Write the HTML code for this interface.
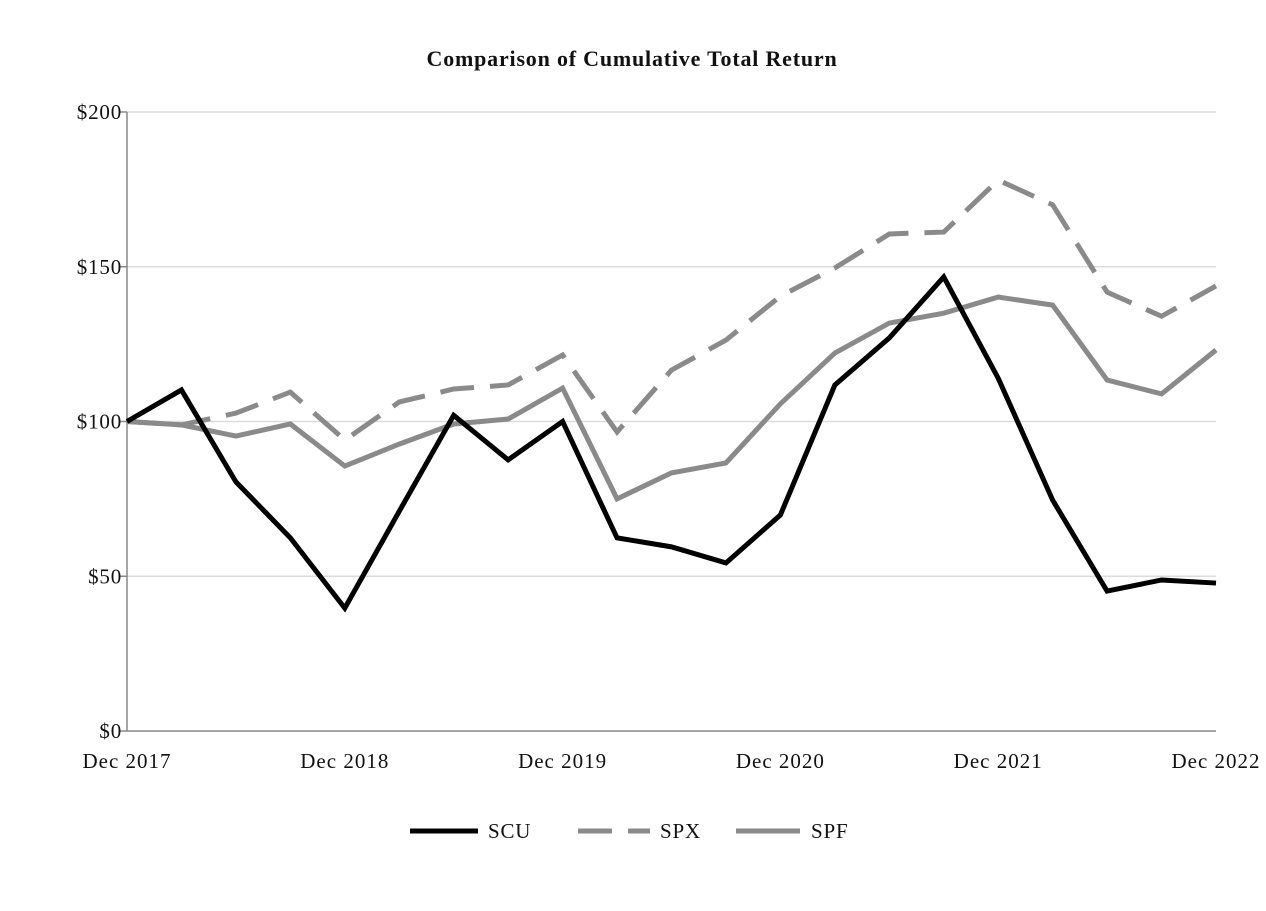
<!DOCTYPE html>
<html><head><meta charset="utf-8"><style>
body{margin:0;background:#fff}
svg text{font-family:"Liberation Serif",serif;fill:#111}
</style></head><body>
<svg id="chart" width="1266" height="906" xmlns="http://www.w3.org/2000/svg">
<text x="632" y="66" text-anchor="middle" font-size="22" font-weight="bold" letter-spacing="0.8">Comparison of Cumulative Total Return</text>
<g id="grid"></g><g id="axes"></g><g id="series"></g>
<g>
<g><line x1="410" y1="831" x2="478" y2="831" stroke="#000" stroke-width="5"/><text x="488" y="838" font-size="21" letter-spacing="0.8">SCU</text></g>
<g><line x1="578" y1="831" x2="650" y2="831" stroke="#8a8a8a" stroke-width="5" stroke-dasharray="34,16"/><text x="660" y="838" font-size="21" letter-spacing="0.8">SPX</text></g>
<g><line x1="736" y1="831" x2="800" y2="831" stroke="#8a8a8a" stroke-width="5"/><text x="811" y="838" font-size="21" letter-spacing="0.8">SPF</text></g>
</g>
</svg>
<script>
const xLabels=["Dec 2017","Dec 2018","Dec 2019","Dec 2020","Dec 2021","Dec 2022"];
const yTicks=[0,50,100,150,200];
const scu=[100,110.2,80.5,62.4,39.7,71,102,87.6,100,62.4,59.5,54.3,69.8,111.8,127,146.7,114,74.6,45.2,48.8,47.8];
const spx=[100,98.9,102.7,109.5,94,106.3,110.5,111.8,121.5,96.6,116.6,126.3,140.5,149.6,160.6,161.2,178,170,141.8,134,143.8];
const spf=[100,98.9,95.3,99.2,85.6,92.7,99.2,100.8,110.8,75,83.4,86.6,105.7,122.1,131.8,135,140.2,137.6,113.4,108.9,123.1];
const X0=127,X1=1216,Y0=731,Y1=112,N=scu.length-1;
const xs=i=>X0+(X1-X0)*i/N;
const ys=v=>Y0-(Y0-Y1)*v/200;
const NS="http://www.w3.org/2000/svg";
function mk(t,a,p){const e=document.createElementNS(NS,t);for(const k in a)e.setAttribute(k,a[k]);p.appendChild(e);return e;}
const grid=document.getElementById('grid'),axes=document.getElementById('axes'),ser=document.getElementById('series');
yTicks.forEach(v=>{
 if(v>0){const g=mk('line',{x1:X0,x2:X1,y1:ys(v),y2:ys(v),stroke:'#dcdcdc','stroke-width':1.5},grid);
 
 }
 const tk=mk('line',{x1:X0-7,x2:X0,y1:ys(v),y2:ys(v),stroke:'#888','stroke-width':1.5},axes);
 
 
 const t=mk('text',{x:X0-5,y:ys(v)+7,'text-anchor':'end','font-size':21,'letter-spacing':0.8},axes);t.textContent='$'+v;
 
 
});
const ya=mk('line',{x1:X0,x2:X0,y1:Y1,y2:Y0,stroke:'#888','stroke-width':1.5},axes);


const xa=mk('line',{x1:X0,x2:X1,y1:Y0,y2:Y0,stroke:'#888','stroke-width':1.5},axes);


xLabels.forEach((l,i)=>{const x=X0+(X1-X0)*i/(xLabels.length-1);
 const t=mk('text',{x:x,y:768,'text-anchor':'middle','font-size':21,'letter-spacing':1},axes);t.textContent=l;
 
 });
function line(d,col,dash,name){const p=mk('polyline',{points:d.map((v,i)=>xs(i)+','+ys(v)).join(' '),fill:'none',stroke:col,'stroke-width':5,'stroke-linejoin':'miter'},ser);
 if(dash)p.setAttribute('stroke-dasharray',dash);
 
 }
line(spx,'#8a8a8a','34,16','spx-line');
line(spf,'#8a8a8a',null,'spf-line');
line(scu,'#000',null,'scu-line');
</script>
</body></html>
